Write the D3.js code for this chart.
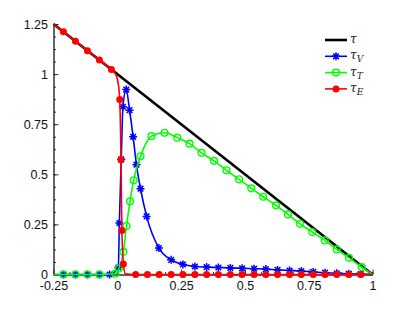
<!DOCTYPE html>
<html>
<head>
<meta charset="utf-8">
<script src="https://cdn.jsdelivr.net/npm/d3@7"></script>
<style>
body { margin: 0; background: #fff; }
svg { display: block; }
</style>
</head>
<body>
<svg width="412" height="309"></svg>
<script>
'use strict';

// tau: straight line
var tauX = [-0.25, 1];
var tauY = [1.25, 0];

// tau_V (blue, asterisks)
var vX = [-0.211, -0.164, -0.117, -0.070, -0.030, 0.004, 0.008, 0.0155, 0.022, 0.035, 0.048, 0.062, 0.075, 0.091, 0.115,
    0.163, 0.211, 0.257, 0.304, 0.350, 0.396, 0.443, 0.489, 0.536, 0.582, 0.628, 0.675, 0.721, 0.768, 0.814, 0.860, 0.907, 0.954];
var vY = [0, 0, 0, 0, 0, 0.035, 0.257, 0.575, 0.837, 0.923, 0.82, 0.687, 0.548, 0.428, 0.29,
    0.132, 0.073, 0.05, 0.04, 0.037, 0.035, 0.033, 0.031, 0.029, 0.027, 0.023, 0.02, 0.017, 0.013, 0.009, 0.006, 0.004, 0.002];
var vKnotX = [-0.25, 1];
var vKnotY = [0, 0];

// tau_T (green, open circles)
var tX = [-0.211, -0.164, -0.117, -0.070, -0.008, 0.006, 0.024, 0.036, 0.050, 0.064, 0.091, 0.134, 0.185, 0.235, 0.283,
    0.330, 0.379, 0.428, 0.477, 0.525, 0.572, 0.622, 0.669, 0.716, 0.764, 0.813, 0.860, 0.908, 0.958];
var tY = [0, 0, 0, 0, 0.004, 0.03, 0.113, 0.242, 0.365, 0.47, 0.59, 0.69, 0.707, 0.683, 0.653,
    0.607, 0.567, 0.52, 0.475, 0.43, 0.388, 0.345, 0.30, 0.253, 0.212, 0.17, 0.125, 0.083, 0.037];
var tKnotX = [-0.25, 1];
var tKnotY = [0, 0];

// tau_E (red, filled dots)
var eX = [-0.211, -0.164, -0.117, -0.070, -0.023, 0.0095, 0.0145, 0.018, 0.024, 0.072, 0.118, 0.164, 0.211, 0.257,
    0.304, 0.350, 0.396, 0.443, 0.489, 0.536, 0.582, 0.628, 0.675, 0.721, 0.768, 0.814, 0.860, 0.907, 0.954];
var eY = [1.211, 1.164, 1.117, 1.070, 1.023, 0.873, 0.573, 0.22, 0.053, 0, 0, 0, 0, 0,
    0, 0, 0, 0, 0, 0, 0, 0, 0, 0, 0, 0, 0, 0, 0];
var eKnotX = [-0.25, -0.006, 0.004, 0.031, 1];
var eKnotY = [1.25, 0.998, 0.95, 0.004, 0];

var xTicks = [-0.25, 0, 0.25, 0.5, 0.75, 1];
var xTickLabels = ['-0.25', '0', '0.25', '0.5', '0.75', '1'];
var yTicks = [0, 0.25, 0.5, 0.75, 1, 1.25];
var yTickLabels = ['0', '0.25', '0.5', '0.75', '1', '1.25'];

var legendNames = ['τ', 'τ', 'τ', 'τ'];
var legendSubs = ['', 'V', 'T', 'E'];

function zip(xs, ys) {
    return xs.map(function (d, i) { return [d, ys[i]]; });
}
function merged(xs, ys, kx, ky) {
    return zip(xs, ys).concat(zip(kx, ky)).sort(function (a, b) { return a[0] - b[0]; });
}

var svg = d3.select('svg');

var x = d3.scaleLinear().domain([-0.25, 1]).range([53.5, 372.5]);
var y = d3.scaleLinear().domain([0, 1.25]).range([274.5, 24]);

// 坐标轴
var minorX = d3.range(-0.25, 1.0001, 0.0625);
var minorY = d3.range(0, 1.2501, 0.0625);

svg.append('g')
    .attr('transform', 'translate(0,274.5)')
    .call(d3.axisBottom(x).tickValues(minorX).tickSizeInner(-2.5).tickSizeOuter(0).tickFormat(''));
svg.append('g')
    .attr('transform', 'translate(53.5,0)')
    .call(d3.axisLeft(y).tickValues(minorY).tickSizeInner(-2.5).tickSizeOuter(0).tickFormat(''));

svg.append('g')
    .attr('transform', 'translate(0,274.5)')
    .call(d3.axisBottom(x).tickValues(xTicks).tickSizeInner(-5).tickSizeOuter(0).tickPadding(6.5)
        .tickFormat(function (d, i) { return xTickLabels[i]; }));
svg.append('g')
    .attr('transform', 'translate(53.5,0)')
    .call(d3.axisLeft(y).tickValues(yTicks).tickSizeInner(-5).tickSizeOuter(0).tickPadding(5.5)
        .tickFormat(function (d, i) { return yTickLabels[i]; }));

svg.selectAll('.domain, .tick line').attr('stroke', '#333');
svg.selectAll('.tick text')
    .attr('fill', '#111')
    .style('font-family', '"Liberation Sans", Arial, sans-serif')
    .style('font-size', '12.5px');

// 曲线
var line = d3.line()
    .x(function (d) { return x(d[0]); })
    .y(function (d) { return y(d[1]); })
    .curve(d3.curveMonotoneX);

var plot = svg.append('g');

plot.append('path')
    .attr('d', line(zip(tauX, tauY)))
    .attr('fill', 'none')
    .attr('stroke', '#000')
    .attr('stroke-width', 2.6);

function starPath(cx, cy, r) {
    var a = r * 0.7071;
    return 'M' + (cx - r) + ',' + cy + 'L' + (cx + r) + ',' + cy +
        'M' + cx + ',' + (cy - r) + 'L' + cx + ',' + (cy + r) +
        'M' + (cx - a) + ',' + (cy - a) + 'L' + (cx + a) + ',' + (cy + a) +
        'M' + (cx - a) + ',' + (cy + a) + 'L' + (cx + a) + ',' + (cy - a);
}

// tau_V
plot.append('path')
    .attr('d', line(merged(vX, vY, vKnotX, vKnotY)))
    .attr('fill', 'none')
    .attr('stroke', '#0000ff')
    .attr('stroke-width', 1.6);
plot.append('g')
    .selectAll('path')
    .data(zip(vX, vY))
    .enter()
    .append('path')
    .attr('d', function (d) { return starPath(x(d[0]), y(d[1]), 4); })
    .attr('stroke', '#0000ff')
    .attr('stroke-width', 1.5);

// tau_T
plot.append('path')
    .attr('d', line(merged(tX, tY, tKnotX, tKnotY)))
    .attr('fill', 'none')
    .attr('stroke', '#00ff00')
    .attr('stroke-width', 1.6);
plot.append('g')
    .selectAll('circle')
    .data(zip(tX, tY))
    .enter()
    .append('circle')
    .attr('cx', function (d) { return x(d[0]); })
    .attr('cy', function (d) { return y(d[1]); })
    .attr('r', 3.4)
    .attr('fill', 'none')
    .attr('stroke', '#00ff00')
    .attr('stroke-width', 1.4);

// tau_E
plot.append('path')
    .attr('d', line(merged(eX, eY, eKnotX, eKnotY)))
    .attr('fill', 'none')
    .attr('stroke', '#ff0000')
    .attr('stroke-width', 1.6);
plot.append('g')
    .selectAll('circle')
    .data(zip(eX, eY))
    .enter()
    .append('circle')
    .attr('cx', function (d) { return x(d[0]); })
    .attr('cy', function (d) { return y(d[1]); })
    .attr('r', 3.5)
    .attr('fill', '#ff0000');

// 图例
var legendColors = ['#000', '#0000ff', '#00ff00', '#ff0000'];
var legend = svg.append('g');
var rows = legend.selectAll('g')
    .data(legendNames)
    .enter()
    .append('g')
    .attr('transform', function (d, i) { return 'translate(325,' + (40 + i * 16.3) + ')'; });

rows.append('line')
    .attr('x1', 0)
    .attr('x2', 22)
    .attr('stroke', function (d, i) { return legendColors[i]; })
    .attr('stroke-width', function (d, i) { return i === 0 ? 2.6 : 1.6; });

rows.each(function (d, i) {
    var g = d3.select(this);
    if (i === 1) {
        g.append('path').attr('d', starPath(11, 0, 4)).attr('stroke', legendColors[i]).attr('stroke-width', 1.5);
    } else if (i === 2) {
        g.append('circle').attr('cx', 11).attr('r', 3.4).attr('fill', 'none')
            .attr('stroke', legendColors[i]).attr('stroke-width', 1.4);
    } else if (i === 3) {
        g.append('circle').attr('cx', 11).attr('r', 3.5).attr('fill', legendColors[i]);
    }
    var t = g.append('text')
        .attr('x', 25)
        .attr('y', 3)
        .style('font-family', '"DejaVu Serif", serif')
        .style('font-style', 'italic')
        .style('font-size', '12px')
        .attr('fill', '#222')
        .text(d);
    if (legendSubs[i]) {
        t.append('tspan')
            .attr('dy', 3)
            .style('font-size', '9px')
            .text(legendSubs[i]);
    }
});
</script>
</body>
</html>
